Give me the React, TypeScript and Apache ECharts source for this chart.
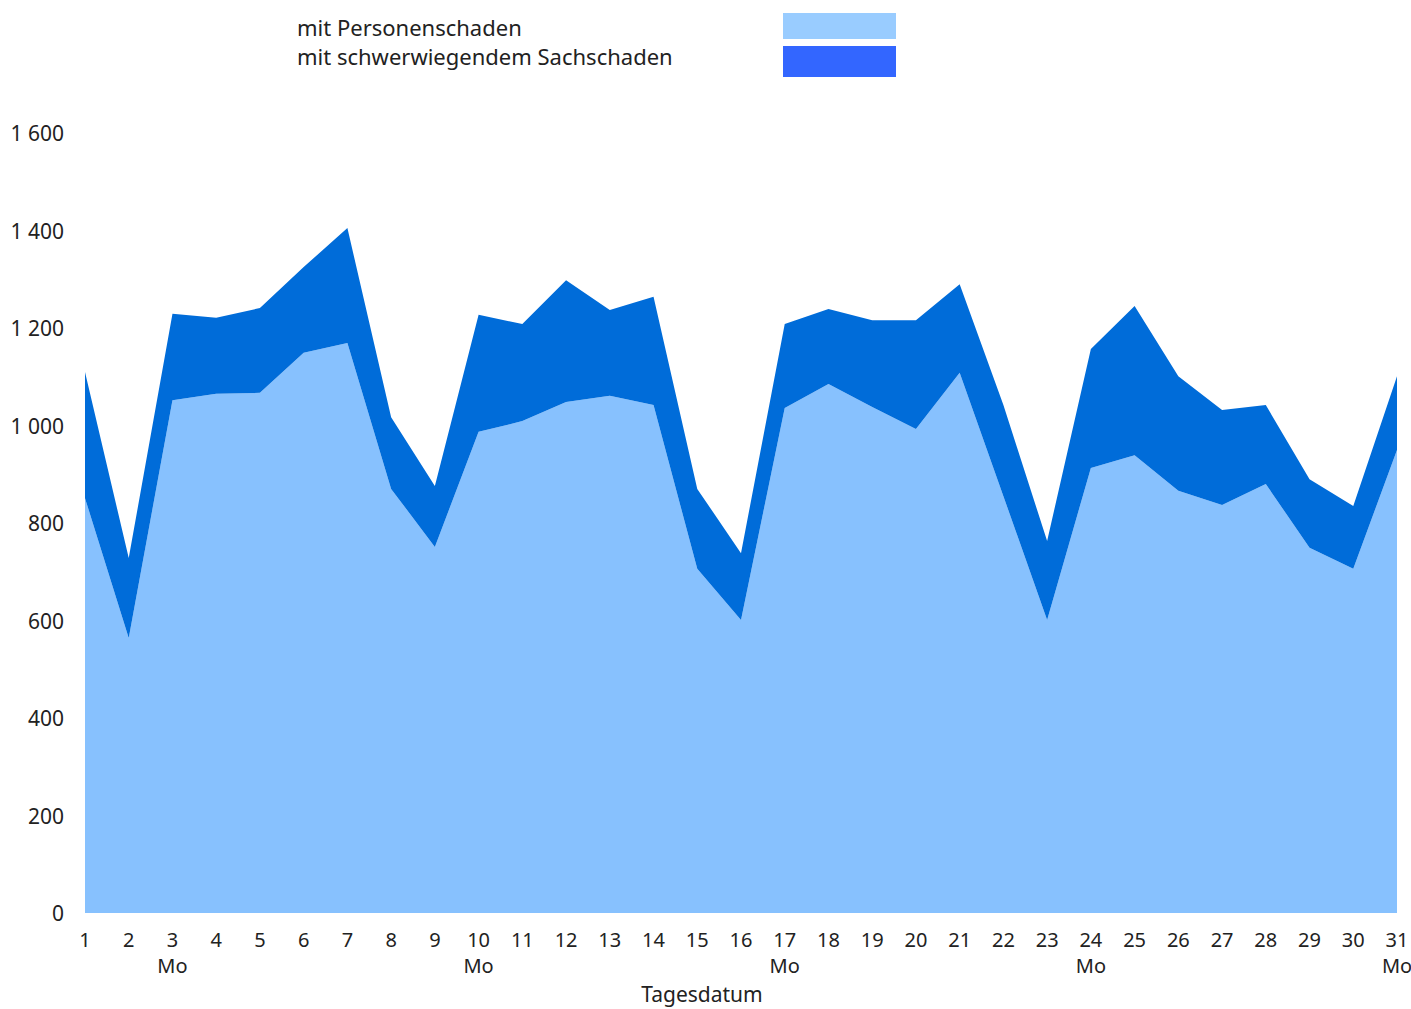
import React, { useEffect, useRef } from "react";
import * as echarts from "echarts";

const days = Array.from({ length: 31 }, (_, i) => String(i + 1));
const mondays = ["3", "10", "17", "24", "31"];

// mit Personenschaden
const personenschaden = [
  851, 564, 1052, 1065, 1067, 1149, 1169, 870, 751, 987, 1009, 1048, 1061, 1042, 706, 601,
  1036, 1085, 1038, 993, 1108, 855, 601, 913, 939, 866, 837, 880, 749, 706, 950,
];
// Gesamt (Oberkante)
const gesamt = [
  1110, 728, 1229, 1221, 1241, 1325, 1405, 1017, 876, 1227, 1208, 1298, 1237, 1264, 870, 738,
  1208, 1239, 1216, 1216, 1290, 1042, 763, 1157, 1245, 1101, 1032, 1042, 890, 835, 1101,
];
// mit schwerwiegendem Sachschaden (Differenz)
const sachschaden = gesamt.map((g, i) => g - personenschaden[i]);

const yTicks = { min: 0, max: 1600, interval: 200 };
const legendItems = [
  { name: "mit Personenschaden", color: "#99CCFF" },
  { name: "mit schwerwiegendem Sachschaden", color: "#3366FF" },
];
const xAxisTitle = "Tagesdatum";

const FONT = "'Noto Sans', sans-serif";
const TEXT = "#222";

export default function App() {
  const ref = useRef<HTMLDivElement>(null);
  useEffect(() => {
    if (!ref.current) return;
    const chart = echarts.init(ref.current, null, { renderer: "svg" });
    chart.setOption({
      animation: false,
      textStyle: { fontFamily: FONT },
      grid: { left: 85, right: 14, top: 133, bottom: 96, outerBoundsMode: "none", containLabel: false },
      graphic: [
        {
          type: "text",
          x: 297,
          y: 27,
          style: {
            text: legendItems[0].name,
            fill: TEXT,
            font: `22px ${FONT}`,
            textVerticalAlign: "middle",
          },
        },
        {
          type: "text",
          x: 297,
          y: 56,
          style: {
            text: legendItems[1].name,
            fill: TEXT,
            font: `22px ${FONT}`,
            textVerticalAlign: "middle",
          },
        },
        {
          type: "rect",
          shape: { x: 783, y: 13, width: 113, height: 26 },
          style: { fill: legendItems[0].color },
        },
        {
          type: "rect",
          shape: { x: 783, y: 46, width: 113, height: 31 },
          style: { fill: legendItems[1].color },
        },
        {
          type: "text",
          x: 702,
          y: 994,
          style: {
            text: xAxisTitle,
            fill: TEXT,
            font: `21px ${FONT}`,
            textAlign: "center",
            textVerticalAlign: "middle",
          },
        },
      ],
      xAxis: {
        type: "category",
        data: days,
        boundaryGap: false,
        axisLine: { show: false },
        axisTick: { show: false },
        axisLabel: {
          color: TEXT,
          fontSize: 20,
          lineHeight: 26,
          margin: 13,
          fontFamily: FONT,
          interval: 0,
          formatter: (v: string) => (mondays.includes(v) ? `${v}\nMo` : v),
          verticalAlign: "top",
        },
      },
      yAxis: {
        type: "value",
        min: yTicks.min,
        max: yTicks.max,
        interval: yTicks.interval,
        axisLine: { show: false },
        axisTick: { show: false },
        splitLine: { show: false },
        axisLabel: {
          color: TEXT,
          fontSize: 21,
          margin: 21,
          fontFamily: FONT,
          formatter: (v: number) => String(v).replace(/\B(?=(\d{3})+(?!\d))/g, " "),
        },
      },
      series: [
        {
          name: legendItems[0].name,
          type: "line",
          stack: "total",
          data: personenschaden,
          symbol: "none",
          lineStyle: { width: 0 },
          areaStyle: { color: "#87C1FE", opacity: 1 },
          itemStyle: { color: "#87C1FE" },
        },
        {
          name: legendItems[1].name,
          type: "line",
          stack: "total",
          data: sachschaden,
          symbol: "none",
          lineStyle: { width: 0 },
          areaStyle: { color: "#006CD9", opacity: 1 },
          itemStyle: { color: "#006CD9" },
        },
      ],
    });
    return () => chart.dispose();
  }, []);
  return <div ref={ref} style={{ width: 1411, height: 1009, position: "absolute", left: 0, top: 0 }} />;
}
